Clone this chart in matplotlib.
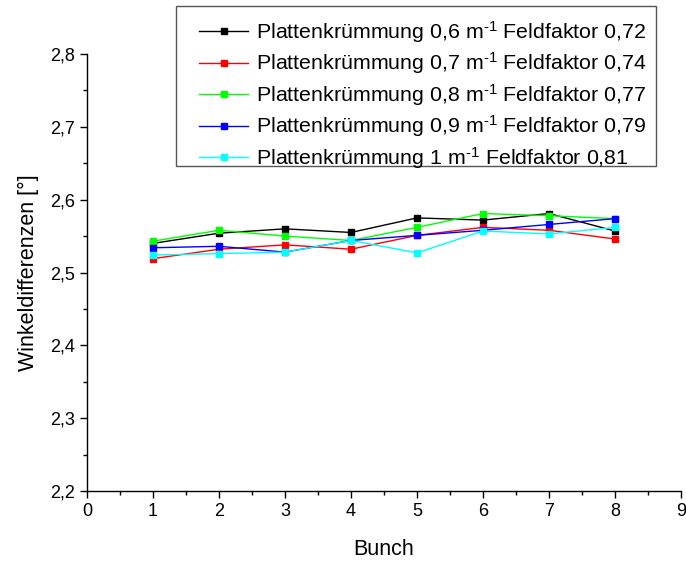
import matplotlib
matplotlib.use("Agg")
import matplotlib.pyplot as plt
from matplotlib.ticker import MultipleLocator, FuncFormatter
from matplotlib.patches import Rectangle

plt.rcParams['font.family'] = ['Liberation Sans', 'DejaVu Sans']
plt.rcParams['mathtext.fontset'] = 'custom'
plt.rcParams['mathtext.rm'] = 'Liberation Sans'
plt.rcParams['mathtext.default'] = 'regular'

bunch = [1, 2, 3, 4, 5, 6, 7, 8]
k06 = [2.540, 2.554, 2.560, 2.555, 2.575, 2.572, 2.581, 2.557]
k07 = [2.519, 2.532, 2.538, 2.532, 2.551, 2.562, 2.558, 2.546]
k08 = [2.543, 2.558, 2.550, 2.544, 2.562, 2.581, 2.578, 2.574]
k09 = [2.534, 2.536, 2.528, 2.544, 2.551, 2.558, 2.566, 2.574]
k10 = [2.524, 2.526, 2.528, 2.544, 2.527, 2.557, 2.553, 2.562]

labels = [
    r"Plattenkrümmung 0,6 m$^{\text{-1}}$ Feldfaktor 0,72",
    r"Plattenkrümmung 0,7 m$^{\text{-1}}$ Feldfaktor 0,74",
    r"Plattenkrümmung 0,8 m$^{\text{-1}}$ Feldfaktor 0,77",
    r"Plattenkrümmung 0,9 m$^{\text{-1}}$ Feldfaktor 0,79",
    r"Plattenkrümmung 1 m$^{\text{-1}}$ Feldfaktor 0,81",
]
colors = ['#000000', '#FF0000', '#00FF00', '#0000FF', '#00FFFF']
series = [k06, k07, k08, k09, k10]

W, H = 686, 563
fig = plt.figure(figsize=(W / 100, H / 100), dpi=100)
ax = fig.add_axes([0.1268, 0.1279, 0.8659, 0.7761])

for ys, c, lab in zip(series, colors, labels):
    ax.plot(bunch, ys, color=c, lw=1.0, marker='s', ms=4.5, mec=c, mfc=c, label=lab)

ax.set_xlim(0, 9)
ax.set_ylim(2.2, 2.8)
ax.xaxis.set_major_locator(MultipleLocator(1))
ax.xaxis.set_minor_locator(MultipleLocator(0.5))
ax.yaxis.set_major_locator(MultipleLocator(0.1))
ax.yaxis.set_minor_locator(MultipleLocator(0.05))
ax.yaxis.set_major_formatter(FuncFormatter(lambda v, p: f"{v:.1f}".replace('.', ',')))
ax.xaxis.set_major_formatter(FuncFormatter(lambda v, p: f"{int(round(v))}"))

for s in ['top', 'right']:
    ax.spines[s].set_visible(False)
for s in ['left', 'bottom']:
    ax.spines[s].set_linewidth(1.0)

ax.tick_params(axis='both', which='major', direction='out', length=5, width=1, labelsize=13)
ax.tick_params(axis='both', which='minor', direction='out', length=3, width=1)

ax.set_xlabel("Bunch", fontsize=15.5, labelpad=14)
ax.set_ylabel("Winkeldifferenzen [°]", fontsize=15.5, labelpad=8)

leg = fig.legend(*ax.get_legend_handles_labels(), loc='upper left',
                 bbox_to_anchor=(199 / W, 1 - 19 / H), fontsize=15.4,
                 frameon=False, handlelength=2.3, labelspacing=0.26,
                 borderpad=0, handletextpad=0.35, borderaxespad=0)
for h in leg.legend_handles:
    h.set_markersize(4)

fig.patches.append(Rectangle((176 / W, 1 - 166 / H), (656 - 176) / W, (166 - 6) / H,
                             transform=fig.transFigure, fill=False,
                             edgecolor='#555555', linewidth=1.0, zorder=5))

fig.savefig("out.png", dpi=100)
